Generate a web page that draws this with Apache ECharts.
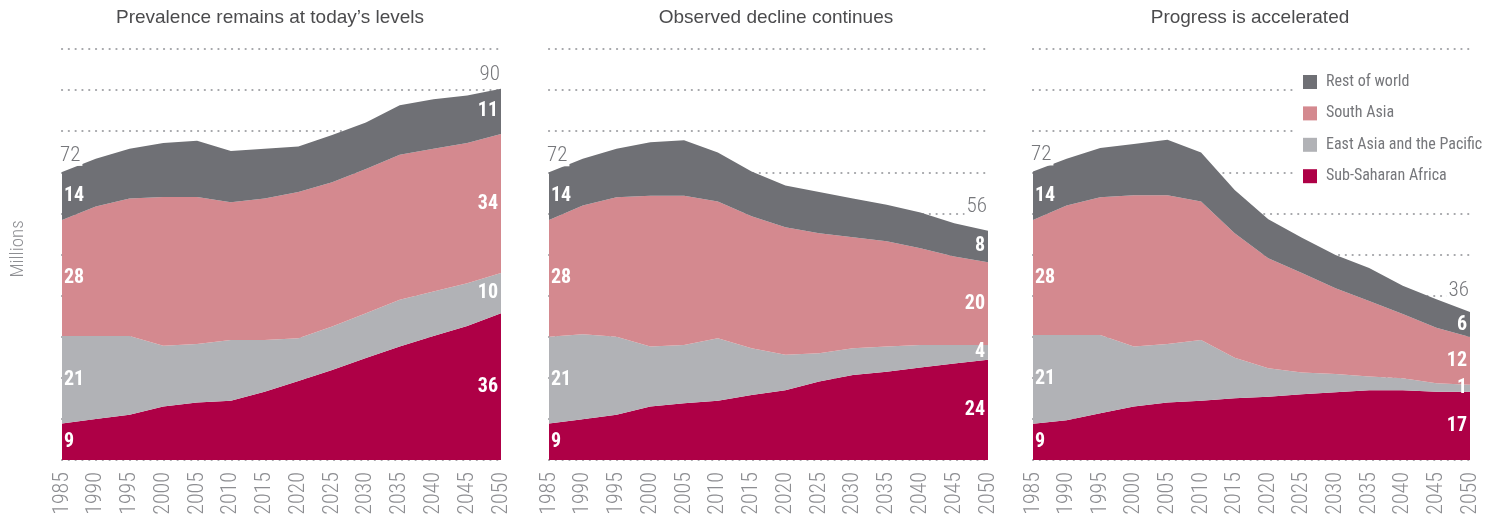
<!DOCTYPE html>
<html>
<head>
<meta charset="utf-8">
<script src="https://cdn.jsdelivr.net/npm/echarts@6/dist/echarts.min.js"></script>
<style>
  html, body { margin: 0; padding: 0; background: #fff; }
  #main { width: 1494px; height: 514px; }
</style>
</head>
<body>
<div id="main"></div>
<script>
// years on the x axis
const years = ['1985', '1990', '1995', '2000', '2005', '2010', '2015',
  '2020', '2025', '2030', '2035', '2040', '2045', '2050']

// panel 1 - prevalence remains at today's levels
const ssa1 = [8.9, 10.0, 11.0, 13.0, 14.0, 14.4, 16.6, 19.2, 21.9, 24.8, 27.6, 30.2, 32.6, 35.7]
const eap1 = [21.3, 20.2, 19.2, 14.8, 14.2, 14.8, 12.6, 10.4, 10.6, 10.9, 11.4, 10.8, 10.4, 9.8]
const sas1 = [28.2, 31.5, 33.4, 36.2, 35.8, 33.5, 34.4, 35.6, 35.1, 35.1, 35.3, 34.7, 34.1, 33.8]
const row1 = [11.7, 11.6, 12.1, 13.1, 13.7, 12.5, 12.1, 11.1, 11.5, 11.3, 12.0, 12.1, 11.6, 11.0]

// panel 2 - observed decline continues
const ssa2 = [8.9, 9.9, 11.0, 13.0, 13.8, 14.4, 15.8, 17.0, 19.1, 20.7, 21.5, 22.5, 23.5, 24.4]
const eap2 = [21.1, 20.7, 19.0, 14.6, 14.2, 15.2, 11.4, 8.6, 6.9, 6.5, 6.1, 5.5, 4.5, 3.6]
const sas2 = [28.4, 31.3, 33.9, 36.7, 36.3, 33.3, 32.1, 31.0, 29.2, 27.0, 25.6, 23.5, 21.5, 20.1]
const row2 = [11.6, 11.4, 11.8, 13.0, 13.5, 11.9, 10.9, 10.2, 10.0, 9.4, 8.9, 8.7, 8.1, 7.7]

// panel 3 - progress is accelerated
const ssa3 = [8.8, 9.7, 11.4, 13.0, 14.0, 14.4, 15.0, 15.4, 16.0, 16.5, 17.0, 17.0, 16.6, 16.6]
const eap3 = [21.6, 20.7, 19.0, 14.6, 14.2, 14.8, 9.9, 6.9, 5.3, 4.4, 3.3, 2.9, 2.1, 1.7]
const sas3 = [28.0, 31.5, 33.5, 36.8, 36.2, 33.7, 30.3, 26.8, 24.2, 20.9, 18.4, 15.6, 13.5, 11.6]
const row3 = [11.8, 11.4, 12.0, 12.5, 13.5, 11.9, 10.5, 9.5, 8.6, 8.1, 8.0, 6.9, 6.9, 6.1]

// printed labels (bottom to top) at 1985 and 2050, plus totals
const startLabels = [9, 21, 28, 14]
const startTotal = 72
const endLabels1 = [36, 10, 34, 11]
const endLabels2 = [24, 4, 20, 8]
const endLabels3 = [17, 1, 12, 6]
const endTotals = [90, 56, 36]

const titles = ['Prevalence remains at today\u2019s levels', 'Observed decline continues', 'Progress is accelerated']
const regionNames = ['Sub-Saharan Africa', 'East Asia and the Pacific', 'South Asia', 'Rest of world']
const colors = ['#ae0046', '#b1b2b6', '#d4898f', '#6f7075']

const narrow = '"Liberation Sans Narrow", "Roboto Condensed", "DejaVu Sans Condensed", sans-serif'

const panels = [
  { data: [ssa1, eap1, sas1, row1], endLabels: endLabels1, left: 62, width: 439, cx: 270, totalGap: [6, 4] },
  { data: [ssa2, eap2, sas2, row2], endLabels: endLabels2, left: 549, width: 439, cx: 776, totalGap: [6, 13] },
  { data: [ssa3, eap3, sas3, row3], endLabels: endLabels3, left: 1033, width: 437, cx: 1250, totalGap: [6, 11] }
]

const chart = echarts.init(document.getElementById('main'))

const grids = []
const xAxes = []
const yAxes = []
const series = []

panels.forEach((p, pi) => {
  grids.push({ left: p.left, width: p.width, top: 49, height: 411, containLabel: false, outerBoundsMode: 'none' })
  xAxes.push({
    type: 'category',
    gridIndex: pi,
    data: years,
    boundaryGap: false,
    axisLine: { show: false },
    axisTick: { show: false },
    axisLabel: {
      rotate: 90,
      margin: 12,
      interval: 0,
      color: '#8d8e92',
      fontFamily: narrow,
      fontWeight: 300,
      fontSize: 22
    }
  })
  yAxes.push({
    type: 'value',
    gridIndex: pi,
    min: 0,
    max: 100,
    interval: 10,
    axisLine: { show: false },
    axisTick: { show: false },
    axisLabel: { show: false },
    splitLine: {
      lineStyle: { color: '#a3a4a8', width: 2.2, type: [0.1, 6.7], cap: 'round' }
    }
  })

  const last = years.length - 1
  let cumStart = 0
  let cumEnd = 0
  p.data.forEach((vals, si) => {
    const midStart = cumStart + vals[0] / 2
    const midEnd = cumEnd + vals[last] / 2
    cumStart += vals[0]
    cumEnd += vals[last]
    const marks = [
      {
        coord: [years[0], midStart],
        value: startLabels[si],
        label: { position: 'right', distance: 2 }
      },
      {
        coord: [years[last], midEnd],
        value: p.endLabels[si],
        label: { position: 'left', distance: 3 }
      }
    ]
    if (si === p.data.length - 1) {
      marks.push({
        coord: [years[0], cumStart],
        value: startTotal,
        label: {
          position: 'top', distance: p.totalGap[0], align: 'left', offset: [-4, 0],
          color: '#76777b', fontWeight: 300, fontSize: 21,
          backgroundColor: '#fff', padding: [0, 2]
        }
      })
      marks.push({
        coord: [years[last], cumEnd],
        value: endTotals[pi],
        label: {
          position: 'top', distance: p.totalGap[1], align: 'right', offset: [1, 0],
          color: '#76777b', fontWeight: 300, fontSize: 21,
          backgroundColor: '#fff', padding: [0, 2]
        }
      })
    }
    series.push({
      name: regionNames[si],
      type: 'line',
      xAxisIndex: pi,
      yAxisIndex: pi,
      stack: 'panel' + pi,
      data: vals,
      symbol: 'none',
      smooth: false,
      color: colors[si],
      lineStyle: { width: 0 },
      areaStyle: { color: colors[si], opacity: 1 },
      emphasis: { disabled: true },
      markPoint: {
        symbol: 'circle',
        symbolSize: 0,
        silent: true,
        label: {
          color: '#fff',
          fontFamily: narrow,
          fontWeight: 'bold',
          fontSize: 20,
          formatter: (d) => String(d.value)
        },
        data: marks
      }
    })
  })
})

const graphics = panels.map((p, pi) => ({
  type: 'text',
  x: p.cx,
  y: 18,
  style: {
    text: titles[pi],
    fontFamily: '"Liberation Sans", Arial, sans-serif',
    fontSize: 19,
    fill: '#4b4b4d',
    align: 'center',
    verticalAlign: 'middle'
  }
}))
graphics.push({
  type: 'text',
  x: 18,
  y: 249,
  rotation: Math.PI / 2,
  style: {
    text: 'Millions',
    fontFamily: narrow,
    fontWeight: 300,
    fontSize: 19,
    fill: '#8d8e92',
    align: 'center',
    verticalAlign: 'middle'
  }
})

chart.setOption({
  animation: false,
  backgroundColor: '#fff',
  grid: grids,
  xAxis: xAxes,
  yAxis: yAxes,
  legend: {
    orient: 'vertical',
    left: 1294,
    top: 64,
    padding: [10, 20, 10, 9],
    backgroundColor: '#fff',
    icon: 'rect',
    itemWidth: 14,
    itemHeight: 14,
    itemGap: 15.4,
    selectedMode: false,
    data: ['Rest of world', 'South Asia', 'East Asia and the Pacific', 'Sub-Saharan Africa'],
    textStyle: { color: '#76777b', fontFamily: narrow, fontSize: 16, padding: [0, 0, 0, 4] }
  },
  graphic: graphics,
  series: series
})
</script>
</body>
</html>
